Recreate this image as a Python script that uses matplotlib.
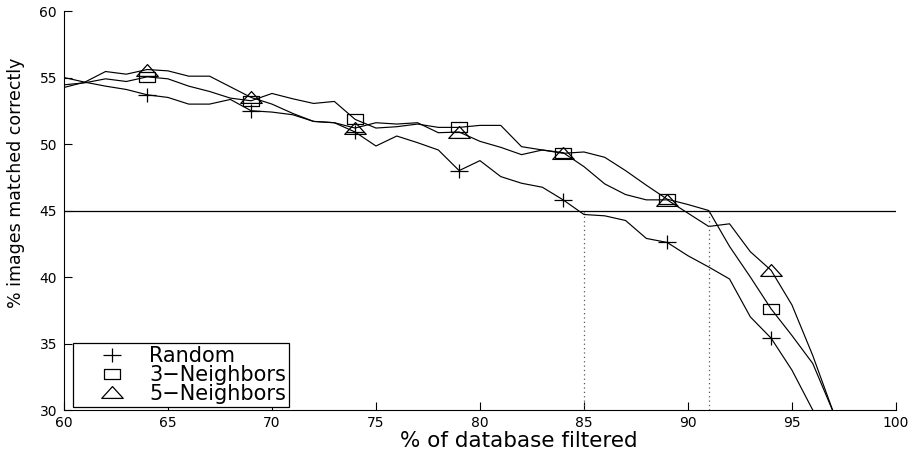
import numpy as np
import matplotlib
matplotlib.use("Agg")
import matplotlib.pyplot as plt
from matplotlib.path import Path
from matplotlib.lines import Line2D


# Percentage of the database filtered out (one point per percent)
filtered = list(range(60, 98))

# % of images matched correctly for each filtering strategy
random_match = [55.0, 54.65, 54.35, 54.1, 53.7, 53.5, 53.0, 53.0, 53.35, 52.5,
                52.4, 52.2, 51.7, 51.6, 50.9, 49.85, 50.6, 50.1, 49.55, 48.0,
                48.75, 47.55, 47.05, 46.75, 45.8, 44.7, 44.6, 44.25, 42.9, 42.6,
                41.6, 40.75, 39.85, 37.0, 35.4, 33.0, 30.0, 27.0]
neigh3_match = [54.45, 54.6, 54.9, 54.7, 55.05, 54.9, 54.35, 53.95, 53.45, 53.25,
                53.8, 53.4, 53.05, 53.2, 51.85, 51.2, 51.3, 51.5, 51.25, 51.25,
                51.4, 51.4, 49.8, 49.55, 49.3, 49.4, 49.0, 48.0, 46.9, 45.85,
                45.45, 45.0, 42.3, 40.0, 37.6, 35.6, 33.5, 29.8]
neigh5_match = [54.25, 54.65, 55.45, 55.25, 55.6, 55.5, 55.1, 55.1, 54.3, 53.5,
                53.0, 52.3, 51.7, 51.6, 51.2, 51.6, 51.5, 51.6, 50.85, 50.9,
                50.2, 49.75, 49.2, 49.55, 49.35, 48.3, 47.0, 46.2, 45.8, 45.8,
                44.8, 43.8, 44.0, 41.9, 40.5, 37.9, 34.1, 29.8]
labels = ["Random", "3\u2212Neighbors", "5\u2212Neighbors"]

# 45% target and the filtering levels where the curves reach it
threshold = 45
cutoffs = [85, 91]

xticks = list(range(60, 101, 5))
yticks = list(range(30, 61, 5))


# open markers, a bit wider than tall
plus = Path([(-1, 0), (1, 0), (0, -0.72), (0, 0.72)],
            [Path.MOVETO, Path.LINETO, Path.MOVETO, Path.LINETO])
square = Path([(-1, -0.62), (1, -0.62), (1, 0.62), (-1, 0.62), (-1, -0.62)],
              [Path.MOVETO, Path.LINETO, Path.LINETO, Path.LINETO, Path.CLOSEPOLY])
triangle = Path([(-1, -0.55), (1, -0.55), (0, 0.55), (-1, -0.55)],
                [Path.MOVETO, Path.LINETO, Path.LINETO, Path.CLOSEPOLY])
markers = [(plus, 13.5), (square, 11.5), (triangle, 15.5)]

plt.rcParams["font.family"] = "DejaVu Sans"

fig = plt.figure(figsize=(9.19, 4.51), dpi=100)
ax = fig.add_axes([0.0696, 0.0909, 0.9053, 0.8847])

series = [random_match, neigh3_match, neigh5_match]
for vals, (mk, ms) in zip(series, markers):
    ax.plot(filtered, vals, color="black", lw=0.85, marker=mk, ms=ms,
            mfc="none", mec="black", mew=0.9, markevery=(4, 5))

ax.axhline(threshold, color="black", lw=0.9)
ax.vlines(cutoffs, 30, threshold, colors="0.35", linestyles=(0, (1, 2.5)), lw=0.9)

ax.set_xlim(60, 100)
ax.set_ylim(30, 60)
ax.set_xticks(xticks)
ax.set_yticks(yticks)
ax.tick_params(direction="in", length=6, width=0.8, labelsize=10, pad=5)
ax.tick_params(axis="x", pad=4)
for side in ["top", "right"]:
    ax.spines[side].set_visible(False)
for side in ["left", "bottom"]:
    ax.spines[side].set_linewidth(0.8)

ax.set_xlabel("% of database filtered", fontsize=15.5)
ax.xaxis.set_label_coords(0.547, -0.053)
ax.set_ylabel("% images matched correctly", fontsize=12.5)
ax.yaxis.set_label_coords(-0.047, 0.57)

handles = [Line2D([], [], ls="none", marker=mk, ms=ms, mfc="none",
                  mec="black", mew=0.9) for mk, ms in markers]
leg = ax.legend(handles, labels, loc="lower left", bbox_to_anchor=(0.011, 0.008),
                borderaxespad=0, fontsize=15, frameon=True, fancybox=False,
                edgecolor="black", framealpha=1, handlelength=3.4,
                handletextpad=0.1, labelspacing=-0.06, borderpad=0.15)
leg.get_frame().set_linewidth(0.9)

fig.savefig("out.png", dpi=100)
